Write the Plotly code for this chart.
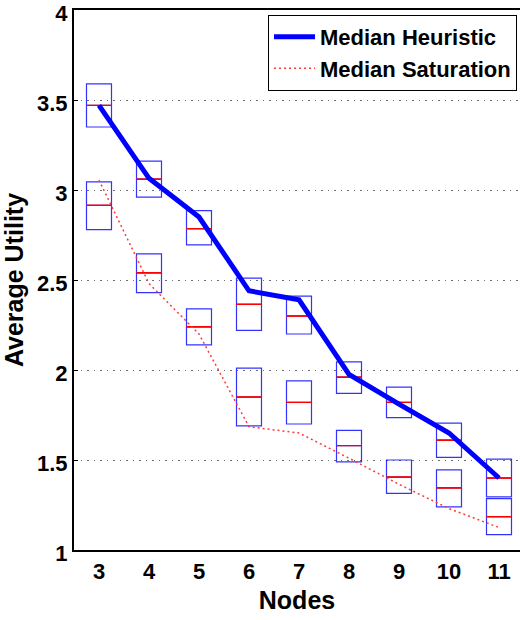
import plotly.graph_objects as go

nodes = [3, 4, 5, 6, 7, 8, 9, 10, 11]

# Heuristic boxes (q1, median, q3)
heur_q1 = [3.35, 2.96, 2.695, 2.22, 2.20, 1.87, 1.735, 1.515, 1.295]
heur_med = [3.47, 3.06, 2.785, 2.365, 2.30, 1.96, 1.82, 1.61, 1.40]
heur_q3 = [3.59, 3.16, 2.885, 2.51, 2.41, 2.045, 1.905, 1.705, 1.505]

# Saturation boxes (q1, median, q3)
sat_q1 = [2.78, 2.43, 2.14, 1.69, 1.70, 1.49, 1.315, 1.24, 1.085]
sat_med = [2.915, 2.54, 2.24, 1.85, 1.82, 1.58, 1.405, 1.345, 1.185]
sat_q3 = [3.045, 2.645, 2.34, 2.01, 1.94, 1.665, 1.50, 1.445, 1.285]

# Median lines
median_heuristic = [3.47, 3.065, 2.85, 2.44, 2.39, 1.975, 1.81, 1.65, 1.40]
median_saturation = [3.055, 2.48, 2.20, 1.685, 1.65, 1.51, 1.365, 1.23, 1.125]

y_ticks = [1, 1.5, 2, 2.5, 3, 3.5, 4]
y_ticklabels = ["1", "1.5", "2", "2.5", "3", "3.5", "4"]

FONT = "Liberation Sans, Arial, sans-serif"
BOX_W = 0.5

fig = go.Figure()

for q1, med, q3 in [(heur_q1, heur_med, heur_q3), (sat_q1, sat_med, sat_q3)]:
    fig.add_trace(go.Box(
        x=nodes, q1=q1, median=med, q3=q3, lowerfence=q1, upperfence=q3,
        width=BOX_W, whiskerwidth=0, boxpoints=False,
        fillcolor="rgba(0,0,0,0)", line=dict(color="rgba(0,0,255,0.8)", width=1.2),
        showlegend=False, hoverinfo="skip"))
    fig.add_trace(go.Box(
        x=nodes, q1=med, median=med, q3=med, lowerfence=med, upperfence=med,
        width=BOX_W, whiskerwidth=0, boxpoints=False,
        fillcolor="rgba(0,0,0,0)", line=dict(color="rgb(255,0,0)", width=1),
        showlegend=False, hoverinfo="skip"))

fig.add_trace(go.Scatter(
    x=nodes, y=median_heuristic, mode="lines", name="Median Heuristic",
    line=dict(color="rgb(0,0,255)", width=5)))
fig.add_trace(go.Scatter(
    x=nodes, y=median_saturation, mode="lines", name="Median Saturation",
    line=dict(color="rgb(255,60,60)", width=1.5, dash="2px,3px")))

fig.update_layout(
    width=520, height=620,
    margin=dict(l=74, r=0, t=10, b=70, autoexpand=False),
    paper_bgcolor="white", plot_bgcolor="white",
    boxmode="overlay",
    font=dict(family=FONT, size=22, color="black", weight="bold"),
    showlegend=True,
    legend=dict(
        x=0.435, y=0.991, xanchor="left", yanchor="top",
        bgcolor="white", bordercolor="black", borderwidth=1,
        font=dict(family=FONT, size=22, color="black", weight="bold"),
        tracegroupgap=0, itemwidth=41,
    ),
    xaxis=dict(
        range=[2.5, 11.42], tickmode="array", tickvals=nodes,
        ticktext=[str(n) for n in nodes],
        showgrid=False, zeroline=False, automargin=False,
        showline=True, linecolor="black", linewidth=2, mirror=True,
        ticks="", ticklabelstandoff=1, ticklabeloverflow="allow",
        tickfont=dict(family=FONT, size=22, color="black", weight="bold"),
        title=dict(text="Nodes", standoff=8,
                   font=dict(family=FONT, size=25, color="black", weight="bold")),
    ),
    yaxis=dict(
        range=[1, 4], tickmode="array", tickvals=y_ticks, ticktext=y_ticklabels,
        showgrid=True, gridcolor="rgb(110,110,110)", gridwidth=1, griddash="1.5px,5px",
        zeroline=False, automargin=False,
        showline=True, linecolor="black", linewidth=2, mirror=False,
        ticks="inside", ticklen=4, tickcolor="black", ticklabeloverflow="allow",
        ticklabelshift=3,
        tickfont=dict(family=FONT, size=22, color="black", weight="bold"),
        title=dict(text="Average Utility", standoff=8,
                   font=dict(family=FONT, size=25, color="black", weight="bold")),
    ),
)

fig.write_html("out.html", config={"displayModeBar": False},
               post_script="document.body.style.margin='0px';")
